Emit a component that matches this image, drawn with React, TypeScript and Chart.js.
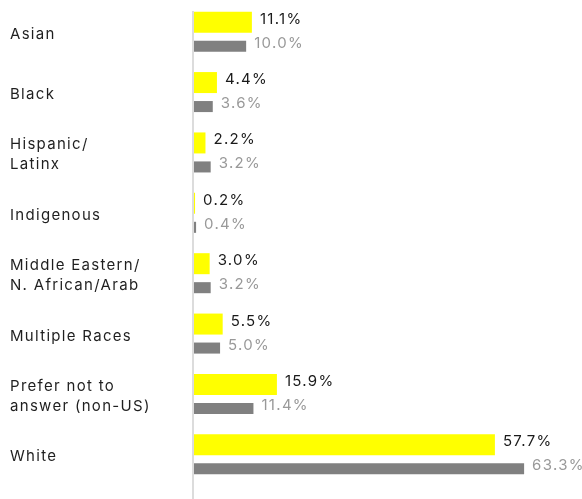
import React, { useEffect, useRef } from "react";
import { Chart, registerables } from "chart.js";

Chart.register(...registerables);

const categories: (string | string[])[] = [
  "Asian",
  "Black",
  ["Hispanic/", "Latinx"],
  "Indigenous",
  ["Middle Eastern/", "N. African/Arab"],
  "Multiple Races",
  ["Prefer not to", "answer (non-US)"],
  "White",
];
const seriesA = [11.1, 4.4, 2.2, 0.2, 3.0, 5.5, 15.9, 57.7];
const seriesB = [10.0, 3.6, 3.2, 0.4, 3.2, 5.0, 11.4, 63.3];

const FONT = "Inter, 'Noto Sans', sans-serif";
const SPACING = "1.3px";

const letterSpacingPlugin = {
  id: "letterSpacing",
  beforeDraw(chart: any) {
    chart.ctx.letterSpacing = SPACING;
  },
};

const axisLinePlugin = {
  id: "axisLine",
  beforeDatasetsDraw(chart: any) {
    const { ctx, chartArea, height } = chart;
    ctx.save();
    ctx.fillStyle = "#dcdcdc";
    ctx.fillRect(chartArea.left - 2, 11, 2, height - 11);
    ctx.restore();
  },
};

const valueLabelPlugin = {
  id: "valueLabels",
  afterDatasetsDraw(chart: any) {
    const { ctx } = chart;
    ctx.save();
    ctx.letterSpacing = SPACING;
    ctx.font = `400 15px ${FONT}`;
    ctx.textAlign = "left";
    ctx.textBaseline = "middle";
    chart.data.datasets.forEach((ds: any, di: number) => {
      const meta = chart.getDatasetMeta(di);
      ctx.fillStyle = di === 0 ? "#1a1a1a" : "#999999";
      meta.data.forEach((el: any, i: number) => {
        const v = ds.data[i] as number;
        ctx.fillText(v.toFixed(1) + "%", el.x + 8, el.y - 3);
      });
    });
    ctx.restore();
  },
};

export default function App() {
  const ref = useRef<HTMLCanvasElement | null>(null);
  useEffect(() => {
    if (!ref.current) return;
    const chart = new Chart(ref.current, {
      type: "bar",
      data: {
        labels: categories,
        datasets: [
          {
            data: seriesA,
            backgroundColor: "#ffff00",
            barPercentage: 0.875,
            categoryPercentage: 0.795,
          },
          {
            data: seriesB,
            backgroundColor: "#808080",
            barPercentage: 0.46,
            categoryPercentage: 0.795,
          },
        ],
      },
      options: {
        indexAxis: "y",
        responsive: false,
        animation: false,
        layout: { padding: { left: 10, top: 4, bottom: 12, right: 0 } },
        plugins: {
          legend: { display: false },
          tooltip: { enabled: false },
        },
        scales: {
          x: {
            display: false,
            min: 0,
            max: 74.4,
          },
          y: {
            grid: { display: false, drawTicks: false },
            border: { display: false },
            ticks: {
              crossAlign: "far",
              padding: 0,
              color: "#1f1f1f",
              font: { family: FONT, size: 15, lineHeight: 1.33 },
            },
            afterFit(scale: any) {
              scale.width = 184;
              scale.paddingTop = 0;
              scale.paddingBottom = 0;
            },
          },
        },
      },
      plugins: [letterSpacingPlugin, axisLinePlugin, valueLabelPlugin],
    });
    return () => chart.destroy();
  }, []);
  return (
    <div style={{ position: "absolute", left: 0, top: 0, width: 582, height: 499 }}>
      <canvas ref={ref} width={582} height={499} />
    </div>
  );
}
